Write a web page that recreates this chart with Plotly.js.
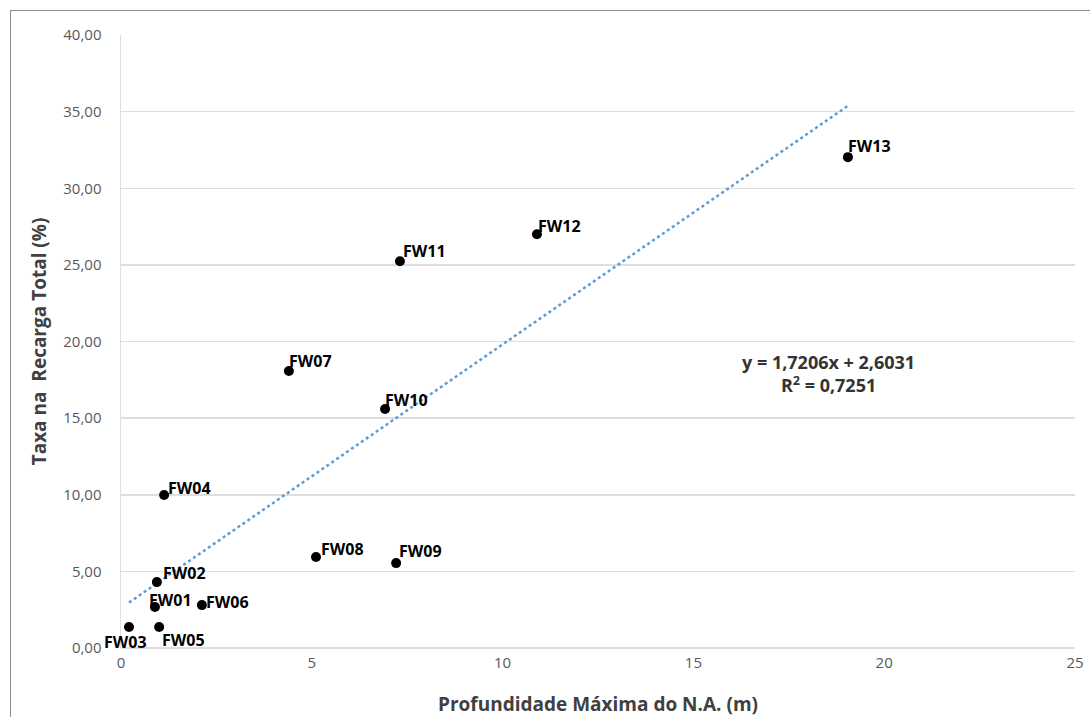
<!DOCTYPE html>
<html>
<head>
<meta charset="utf-8">
<script src="https://cdn.plot.ly/plotly-3.0.1.min.js"></script>
<style>
  html, body { margin: 0; padding: 0; background: #fff; }
  #wrap { position: relative; width: 1090px; height: 717px; }
  #frame { position: absolute; left: 10px; top: 10px; width: 1080px; height: 707px;
           border-left: 1px solid #8c8c8c; border-top: 1px solid #8c8c8c; pointer-events: none; }
  #chart { position: absolute; left: 0; top: 0; width: 1090px; height: 717px; }
</style>
</head>
<body>
<div id="wrap">
  <div id="chart"></div>
  <div id="frame"></div>
</div>
<script>
// Data
const wells = ["FW01","FW02","FW03","FW04","FW05","FW06","FW07","FW08","FW09","FW10","FW11","FW12","FW13"];
const depth = [0.89, 0.94, 0.21, 1.13, 1.00, 2.12, 4.40, 5.11, 7.21, 6.92, 7.31, 10.90, 19.05];
const rate  = [2.67, 4.30, 1.37, 9.98, 1.37, 2.80, 18.07, 5.94, 5.54, 15.59, 25.24, 27.00, 32.03];
const slope = 1.7206, intercept = 2.6031, r2 = "0,7251";
const xTicks = [0, 5, 10, 15, 20, 25];
const yTicks = [0, 5, 10, 15, 20, 25, 30, 35, 40];

// label offsets (pixels) relative to each marker – styling only
const labelDX = [-8, 4, -27, 2, 1, 2, -2, 3, 1, -2, 1, -1, -2];
const labelDY = [7, 9, -15, 7, -13, 3, 10, 8, 12, 9, 10, 8, 11];

const xMin = Math.min(...depth), xMax = Math.max(...depth);
const trendX = [xMin, xMax];
const trendY = trendX.map(v => slope * v + intercept);

const traces = [
  {
    x: trendX, y: trendY, mode: "lines", type: "scatter",
    line: {color: "#5b9bd5", width: 2.5, dash: "dot"},
    hoverinfo: "skip", showlegend: false
  },
  {
    x: depth, y: rate, mode: "markers", type: "scatter",
    marker: {color: "#000", size: 10},
    cliponaxis: false, showlegend: false
  }
];

const labelAnns = wells.map((w, i) => ({
  xref: "x", yref: "y", x: depth[i], y: rate[i], showarrow: false,
  text: "<b>" + w + "</b>", xanchor: "left", yanchor: "middle",
  xshift: labelDX[i], yshift: labelDY[i],
  font: {family: "Open Sans, Liberation Sans, sans-serif", size: 16, color: "#000"}
}));

const layout = {
  width: 1090, height: 717,
  margin: {l: 121, r: 15, t: 35, b: 69},
  paper_bgcolor: "#fff", plot_bgcolor: "#fff",
  separators: ",.",
  showlegend: false,
  xaxis: {
    range: [0, 25], tickvals: xTicks, showgrid: false, zeroline: false,
    showline: false, ticks: "", ticklabelstandoff: 4,
    tickfont: {family: "Open Sans, sans-serif", size: 15, color: "#595959"},
    title: {text: "<b>Profundidade Máxima do N.A. (m)</b>", standoff: 26,
            font: {family: "Open Sans, sans-serif", size: 19, color: "#404040"}}
  },
  yaxis: {
    range: [0, 40], tickvals: yTicks, tickformat: ".2f",
    showgrid: true, gridcolor: "#dedede", gridwidth: 1.5,
    zeroline: true, zerolinecolor: "#dedede", zerolinewidth: 1.5,
    showline: true, linecolor: "#dedede", linewidth: 1.5,
    ticks: "", ticklabelstandoff: 15,
    tickfont: {family: "Open Sans, sans-serif", size: 15, color: "#595959"},
    title: {text: "<b>Taxa na  Recarga Total (%)</b>", standoff: 11,
            font: {family: "Open Sans, sans-serif", size: 19, color: "#404040"}}
  },
  annotations: labelAnns.concat([
    {
      xref: "x", yref: "y", x: 18.53, y: 17.94, showarrow: false,
      text: "<b>y = " + slope.toFixed(4).replace(".", ",") + "x + " + intercept.toFixed(4).replace(".", ",") +
            "<br>R<sup>2</sup> = " + r2 + "</b>",
      align: "center",
      font: {family: "Open Sans, sans-serif", size: 18, color: "#333"}
    }
  ])
};

Plotly.newPlot("chart", traces, layout, {displayModeBar: false, staticPlot: true});
</script>
</body>
</html>
